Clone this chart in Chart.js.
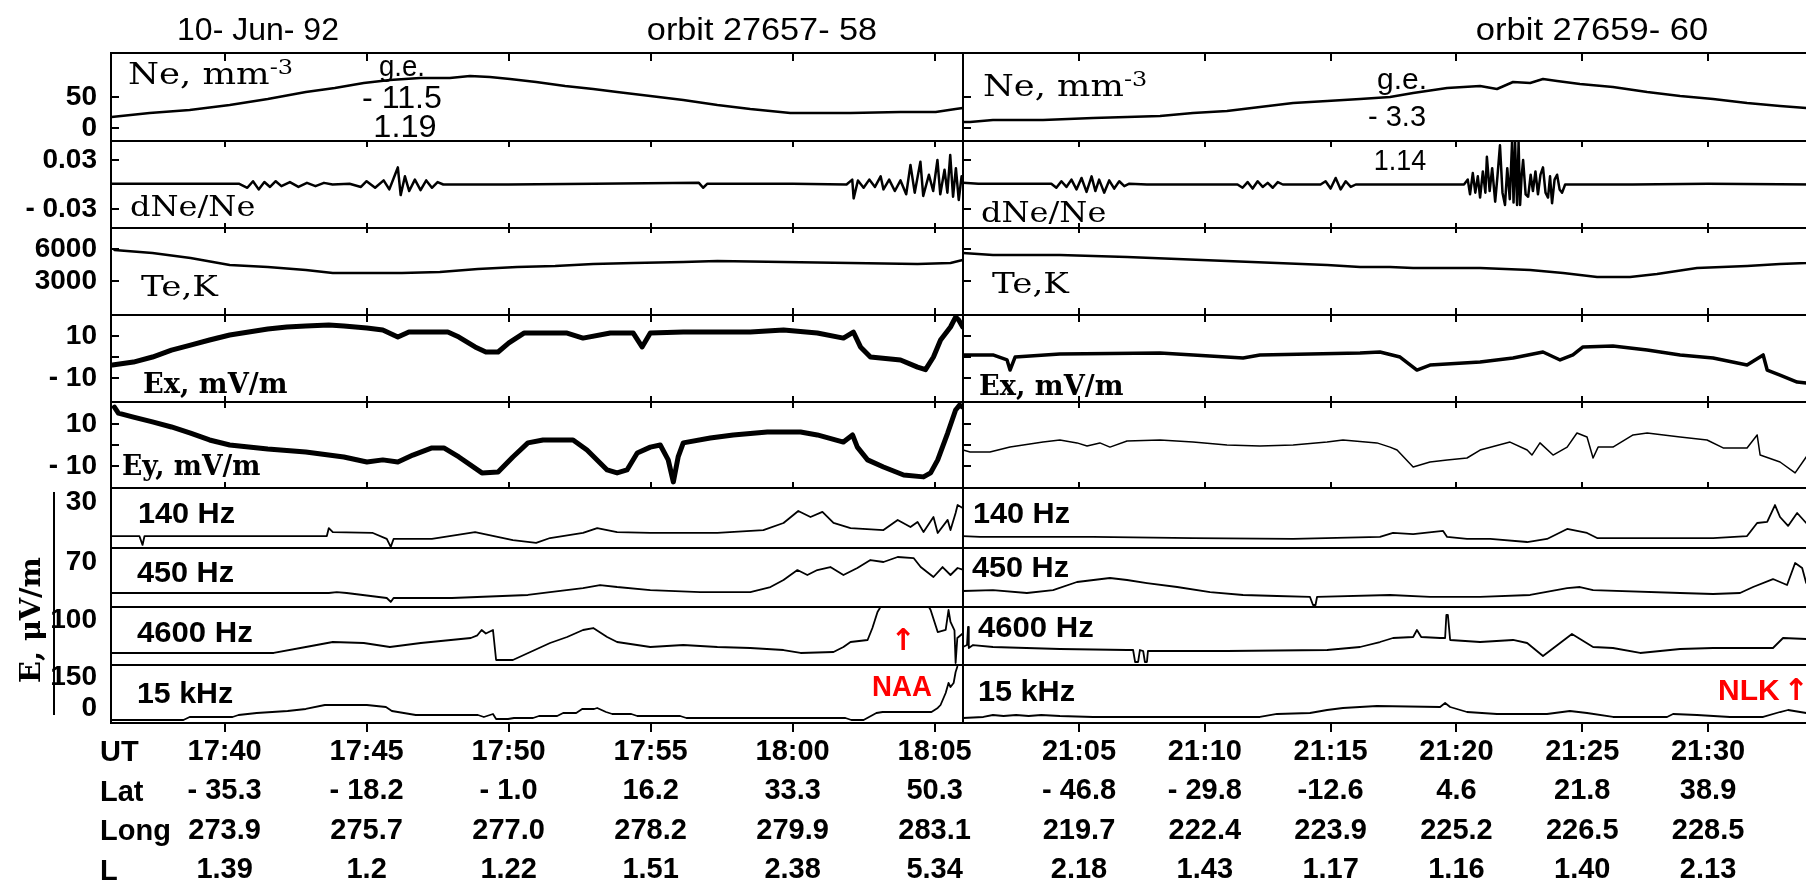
<!DOCTYPE html>
<html><head><meta charset="utf-8">
<script src="https://cdn.jsdelivr.net/npm/chart.js@4.4.1/dist/chart.umd.min.js"></script>
<style>
html,body{margin:0;padding:0;background:#fff;overflow:hidden;width:1806px;height:882px;}
#wrap{position:relative;width:1806px;height:882px;overflow:hidden;background:#fff;}
canvas{position:absolute;top:0;}
.lbl{position:absolute;white-space:nowrap;color:#000;}
</style></head><body><div id="wrap">
<canvas id="cL" width="975" height="882" style="left:0px"></canvas>
<canvas id="cR" width="862" height="882" style="left:953px"></canvas>
</div>
<script>
// ---------- bottom table (x tick labels) ----------
const UT_TICKS_L = [40, 45, 50, 55, 60, 65];          // minutes after 17:00
const UT_L   = ['17:40','17:45','17:50','17:55','18:00','18:05'];
const LAT_L  = ['- 35.3','- 18.2','- 1.0','16.2','33.3','50.3'];
const LONG_L = ['273.9','275.7','277.0','278.2','279.9','283.1'];
const LSH_L  = ['1.39','1.2','1.22','1.51','2.38','5.34'];
const UT_TICKS_R = [5, 10, 15, 20, 25, 30];           // minutes after 21:00
const UT_R   = ['21:05','21:10','21:15','21:20','21:25','21:30'];
const LAT_R  = ['- 46.8','- 29.8','-12.6','4.6','21.8','38.9'];
const LONG_R = ['219.7','222.4','223.9','225.2','226.5','228.5'];
const LSH_R  = ['2.18','1.43','1.17','1.16','1.40','2.13'];

// ---------- y tick values / labels per panel ----------
const Y_TICKS = [[0,50],[-0.03,0.03],[3000,6000],[-10,0,10],[-10,0,10],[30],[70],[100],[0,150]];
const Y_TICK_LABELS = [['0','50'],['- 0.03','0.03'],['3000','6000'],['- 10','','10'],['- 10','','10'],['30'],['70'],['100'],['0','150']];
const Y_RANGE = [[-21,121],[-0.0533,0.0533],[-188,7969],[-21.4,20],[-20.5,20.5],[0,39.1],[0,91.8],[0,128.9],[-72.6,208]];

// ---------- series: [minutes, value] ----------
const NE_L = [[36.02,17.7],[37.36,24.2],[38.77,29.0],[40.18,37.1],[41.52,46.8],[42.86,58.1],[43.88,64.5],[44.90,72.6],[45.82,77.4],[46.88,80.6],[47.93,80.6],[48.64,83.9],[49.34,82.3],[50.05,79.0],[50.97,74.2],[51.99,67.7],[52.98,62.9],[53.82,58.1],[54.99,51.6],[56.15,45.2],[57.35,37.1],[58.51,30.6],[59.92,24.2],[62.04,24.2],[63.80,25.8],[65.04,25.8],[65.74,30.6],[65.99,32.3]];
const NE_R = [[0.39,9.7],[0.67,9.7],[1.58,12.9],[3.57,12.9],[5.56,16.1],[6.91,17.7],[8.22,19.4],[9.53,24.2],[10.88,27.4],[12.19,33.9],[13.51,40.3],[14.86,43.5],[16.17,46.8],[17.36,50.0],[18.28,56.5],[19.63,64.5],[20.94,67.7],[21.61,62.9],[22.25,74.2],[22.93,72.6],[23.44,79.0],[24.00,75.8],[24.91,71.0],[26.22,66.1],[27.58,58.1],[28.89,51.6],[30.20,46.8],[31.55,40.3],[32.86,35.5],[33.90,32.3],[34.25,31.5]];
const DNE_L = [[36.0,0.001],[38.0,0.001],[40.5,0.001],[40.8,-0.004],[41.0,0.004],[41.2,-0.006],[41.4,0.003],[41.6,-0.003],[41.8,0.004],[42.0,-0.002],[42.3,0.003],[42.6,-0.003],[42.9,0.002],[43.2,-0.002],[43.5,0.002],[43.8,0.0],[44.4,0.001],[44.8,-0.003],[45.0,0.004],[45.3,-0.004],[45.6,0.005],[45.8,-0.006],[46.0,0.012],[46.1,0.021],[46.2,-0.013],[46.35,0.010],[46.5,-0.008],[46.7,0.006],[46.9,-0.007],[47.1,0.005],[47.3,-0.004],[47.5,0.003],[47.7,0.0],[50.0,0.0],[53.0,0.001],[56.7,0.002],[56.85,-0.004],[57.0,0.001],[60.0,0.001],[61.9,0.0],[62.1,0.006],[62.15,-0.017],[62.3,0.005],[62.5,-0.004],[62.7,0.006],[62.9,-0.003],[63.1,0.010],[63.2,-0.006],[63.4,0.006],[63.6,-0.008],[63.8,0.005],[64.0,-0.012],[64.15,0.024],[64.3,-0.010],[64.5,0.028],[64.6,-0.014],[64.8,0.012],[64.95,-0.008],[65.1,0.030],[65.2,-0.012],[65.35,0.018],[65.45,-0.010],[65.55,0.036],[65.65,-0.015],[65.75,0.020],[65.85,-0.019],[65.95,0.010],[66.0,0.002]];
const DNE_R = [[0.39,0.002],[1.0,0.001],[3.9,0.001],[4.1,-0.004],[4.3,0.004],[4.5,-0.003],[4.7,0.006],[4.9,-0.006],[5.1,0.008],[5.3,-0.009],[5.5,0.010],[5.65,-0.008],[5.8,0.006],[6.0,-0.010],[6.2,0.005],[6.4,-0.005],[6.6,0.004],[6.8,-0.002],[7.0,0.001],[7.7,0.0],[11.3,0.0],[11.5,-0.004],[11.7,0.003],[11.9,-0.005],[12.1,0.004],[12.3,-0.003],[12.5,0.002],[12.7,-0.004],[12.9,0.003],[13.1,0.0],[14.6,0.0],[14.8,0.004],[15.0,-0.005],[15.2,0.008],[15.4,-0.006],[15.6,0.004],[15.8,-0.003],[16.0,0.0],[20.3,0.0],[20.45,0.006],[20.54,-0.012],[20.65,0.014],[20.75,-0.010],[20.85,0.010],[20.94,-0.016],[21.05,0.016],[21.15,-0.010],[21.21,0.034],[21.32,-0.008],[21.42,0.020],[21.54,-0.021],[21.63,0.010],[21.73,0.048],[21.83,-0.010],[21.93,-0.025],[22.02,0.020],[22.12,-0.018],[22.21,0.052],[22.27,-0.022],[22.33,0.052],[22.41,-0.025],[22.47,0.052],[22.53,-0.025],[22.59,0.010],[22.65,0.030],[22.75,-0.012],[22.85,-0.015],[22.95,0.012],[23.04,-0.008],[23.14,0.016],[23.24,-0.012],[23.34,0.012],[23.44,0.021],[23.54,-0.010],[23.64,-0.016],[23.72,0.010],[23.80,-0.023],[23.9,0.006],[24.0,0.012],[24.1,-0.006],[24.2,-0.010],[24.32,0.0],[27.0,0.0],[30.0,0.001],[34.25,0.0]];
const TE_L = [[36.12,5906],[37.46,5625],[38.80,5156],[40.18,4500],[41.52,4312],[42.86,4031],[43.81,3750],[44.90,3750],[46.24,3750],[47.58,3844],[48.92,4125],[50.30,4312],[51.64,4406],[52.98,4594],[54.39,4687],[56.15,4781],[57.35,4875],[59.68,4781],[62.04,4687],[64.40,4594],[65.56,4687],[65.99,4969]];
const TE_R = [[0.39,5625],[1.58,5437],[4.24,5437],[6.91,5250],[8.90,5062],[10.88,4875],[12.87,4687],[14.86,4500],[16.17,4312],[17.36,4312],[18.28,4219],[20.94,4219],[22.93,4031],[24.24,3750],[25.59,3375],[26.90,3375],[27.97,3656],[29.56,4219],[31.55,4406],[32.86,4594],[33.90,4687],[34.25,4750]];
const EX_L = [[36.05,-3.8],[36.79,-2.4],[37.46,0],[38.13,3.3],[38.80,5.7],[39.47,8.1],[40.18,10.5],[40.85,11.9],[41.52,13.3],[42.19,14.3],[42.86,14.8],[43.67,15.2],[44.20,14.8],[45.01,13.8],[45.57,12.9],[46.10,9.5],[46.49,11.9],[46.91,11.9],[47.86,11.9],[48.25,9.5],[48.82,4.8],[49.20,2.4],[49.63,2.4],[50.01,6.7],[50.54,11.4],[51.64,11.4],[52.06,11.4],[52.62,9.0],[53.58,11.4],[54.39,11.4],[54.70,4.8],[54.99,11.4],[56.15,11.9],[58.51,11.9],[59.68,12.9],[60.87,11.4],[61.79,9.0],[62.14,11.9],[62.39,4.8],[62.74,0],[63.80,-1.4],[64.40,-4.8],[64.68,-6.0],[64.96,0],[65.21,8.1],[65.56,14.3],[65.74,19.0],[65.85,17.6],[65.99,14.3]];
const EX_R = [[0.39,1.0],[1.58,1.0],[2.14,-1.4],[2.26,-6.2],[2.46,0],[4.24,1.4],[8.22,1.9],[11.52,-0.5],[12.19,1.0],[16.17,1.9],[16.96,2.4],[17.76,0],[18.43,-6.2],[18.95,-3.8],[20.94,-2.4],[22.25,-0.5],[23.44,2.4],[24.12,-1.4],[24.63,1.0],[25.03,4.8],[26.22,5.2],[27.58,3.3],[28.89,1.0],[30.20,-0.5],[31.55,-3.8],[32.19,1.0],[32.35,-6.2],[32.86,-8.6],[33.54,-11.9],[33.90,-12.4],[34.25,-13]];
const EY_L = [[36.12,18.1],[36.26,15.2],[36.79,13.3],[37.46,11.0],[38.13,8.6],[38.80,5.7],[39.47,2.4],[40.18,0],[41.52,-1.9],[42.86,-3.3],[44.20,-5.7],[45.01,-8.1],[45.57,-7.1],[46.10,-8.1],[46.63,-4.8],[47.30,-1.4],[47.72,-1.4],[48.25,-5.7],[49.06,-13.3],[49.63,-12.9],[50.15,-5.7],[50.68,1.0],[51.21,2.4],[51.46,2.4],[52.27,2.4],[52.76,-2.4],[53.47,-11.9],[53.82,-13.3],[54.17,-11.9],[54.53,-3.8],[54.99,-1.0],[55.34,0],[55.62,-7.1],[55.80,-17.6],[55.97,-5.7],[56.15,1.0],[57.10,3.3],[57.91,4.8],[59.11,6.2],[60.28,6.2],[60.87,4.8],[61.79,1.4],[62.11,4.8],[62.28,-1.0],[62.64,-7.1],[63.20,-10.5],[63.91,-14.3],[64.61,-15.2],[64.86,-13.3],[65.11,-7.1],[65.46,5.7],[65.74,16.7],[65.88,19.0],[65.99,18.1]];
const EY_R = [[0.39,-2.4],[0.67,-3.3],[1.46,-3.3],[2.26,-1.0],[3.57,1.4],[4.24,2.4],[4.92,1.0],[5.32,-0.5],[5.83,1.0],[6.23,-1.0],[6.91,1.9],[8.22,2.4],[9.53,1.4],[10.88,0],[12.19,-0.5],[13.51,0],[14.86,1.4],[15.49,2.4],[16.84,1.0],[17.36,-1.0],[17.64,-2.4],[18.28,-10.5],[18.95,-8.1],[19.63,-7.1],[20.42,-6.2],[20.94,-2.4],[22.13,1.4],[22.81,-2.4],[23.00,-4.8],[23.32,1.0],[23.84,-4.8],[24.40,-1.0],[24.79,5.7],[25.19,3.8],[25.43,-6.2],[25.63,-1.0],[26.22,-1.0],[27.02,4.8],[27.58,5.7],[28.89,3.8],[29.96,2.4],[30.60,-1.4],[31.55,-1.4],[31.95,4.8],[32.07,-4.8],[32.86,-8.1],[33.46,-13.3],[33.90,-5.7],[34.25,-3]];
const F140_L = [[36.05,7.8],[37.0,7.8],[37.11,2.0],[37.18,7.8],[40.0,7.8],[43.6,7.8],[43.67,13.0],[43.81,10.4],[45.22,9.8],[45.71,5.9],[45.85,0.7],[45.95,5.9],[47.30,5.9],[48.82,10.4],[50.15,5.2],[50.97,3.3],[51.46,6.5],[52.62,9.8],[53.12,13.0],[53.82,10.4],[54.99,9.8],[57.35,9.8],[58.97,11.7],[59.68,16.3],[60.20,24.1],[60.63,20.2],[61.05,23.5],[61.44,16.3],[62.04,13.0],[63.20,11.7],[63.70,18.3],[64.15,13.7],[64.40,17.0],[64.61,10.4],[64.96,20.2],[65.11,9.8],[65.46,18.3],[65.56,11.7],[65.74,22.8],[65.81,28.0],[65.99,26]];
const F140_R = [[0.39,7.8],[1.07,7.2],[4.24,7.2],[5.56,7.2],[9.53,6.5],[13.51,5.9],[16.96,7.2],[17.48,9.8],[18.28,9.1],[19.47,11.1],[19.63,7.2],[20.42,5.9],[21.34,5.9],[22.81,3.9],[23.60,5.9],[24.40,12.4],[25.19,9.8],[25.59,6.5],[30.20,6.5],[31.55,7.8],[31.95,16.3],[32.35,17.0],[32.66,28.0],[32.86,20.2],[33.18,14.4],[33.54,22.8],[33.90,16.3],[34.25,14]];
const F450_L = [[36.05,21.8],[43.67,21.8],[43.95,23.3],[44.3,21.8],[45.71,14.0],[45.85,7.8],[45.95,14.0],[48.0,14.0],[50.68,18.7],[51.46,23.3],[52.62,29.5],[53.22,34.2],[53.82,31.1],[54.99,26.4],[56.75,23.3],[58.51,23.3],[59.22,31.1],[59.68,42.0],[60.17,57.5],[60.52,49.8],[60.87,57.5],[61.33,62.2],[61.79,49.8],[62.28,60.7],[62.74,73.1],[63.20,70.0],[63.70,77.8],[64.26,76.2],[64.51,62.2],[64.96,46.7],[65.28,62.2],[65.56,49.8],[65.81,60.7],[65.99,58]];
const F450_R = [[0.39,24.9],[1.58,26.4],[2.93,21.8],[3.97,26.4],[4.92,38.9],[6.23,45.1],[6.91,42.0],[7.70,37.3],[8.90,31.1],[10.21,23.3],[11.52,18.7],[12.87,17.1],[14.18,15.6],[14.30,3.1],[14.40,3.1],[14.46,15.6],[17.36,18.7],[18.95,15.6],[20.94,15.6],[22.93,18.7],[24.40,29.5],[24.91,31.1],[25.43,26.4],[28.89,21.8],[30.20,20.2],[31.27,21.8],[31.79,31.1],[32.58,43.5],[33.14,34.2],[33.46,68.4],[33.74,60.7],[33.90,37.3],[34.25,30]];
const F4600_L = [[36.05,26.7],[41.73,26.7],[42.86,40.0],[43.81,51.1],[44.90,48.9],[45.82,40.0],[46.91,48.9],[48.67,60.0],[48.9,66],[49.05,77.8],[49.2,70],[49.45,77.8],[49.56,11.1],[50.15,11.1],[51.46,48.9],[52.06,62.2],[52.62,77.8],[52.98,82.2],[53.47,62.2],[53.82,51.1],[54.99,40.0],[56.15,44.4],[57.35,40.0],[58.51,37.8],[59.68,33.3],[60.28,26.7],[61.44,28.9],[61.79,40.0],[62.04,51.1],[62.64,55.6],[62.81,82.2],[62.99,117.8],[63.2,140],[64.7,140],[64.86,122.2],[65.11,73.3],[65.39,77.8],[65.49,122.2],[65.56,95.6],[65.70,77],[65.74,4.4],[65.8,60],[65.99,70]];
const F4600_R = [[0.39,40],[0.55,44.4],[0.59,84.4],[0.62,37.8],[0.79,44.4],[1.58,40.0],[4.24,35.6],[6.91,33.3],[7.15,33.3],[7.23,6.7],[7.35,6.7],[7.42,33.3],[7.55,31.1],[7.62,6.7],[7.70,6.7],[7.74,31.1],[10.88,31.1],[14.86,33.3],[16.17,40.0],[16.96,51.1],[17.48,60.0],[18.28,62.2],[18.43,77.8],[18.6,62.2],[19.35,60.0],[19.55,60.0],[19.6,111.1],[19.66,111.1],[19.75,55.6],[20.94,51.1],[22.25,55.6],[22.81,48.9],[23.44,20.0],[24.12,48.9],[24.59,68.9],[25.43,40.0],[26.22,37.8],[27.30,26.7],[28.89,35.6],[30.20,37.8],[32.58,37.8],[32.98,60.0],[33.90,57.8],[34.25,57]];
const F15K_L = [[36.0,-58],[38.55,-58],[38.77,-43.5],[40.28,-43.5],[40.49,-33.9],[41.13,-24.2],[42.22,-14.5],[42.86,-4.8],[43.53,14.5],[45.01,14.5],[45.68,4.8],[45.89,-14.5],[46.73,-33.9],[48.92,-33.9],[49.13,-43.5],[49.45,-29.0],[49.56,-53.2],[49.98,-53.2],[50.19,-48.4],[50.86,-48.4],[51.07,-38.7],[51.71,-38.7],[51.92,-24.2],[52.38,-24.2],[52.59,-4.8],[53.01,-4.8],[53.12,0],[53.43,-19.4],[53.65,-29.0],[54.32,-29.0],[54.53,-38.7],[56.04,-38.7],[56.26,-48.4],[61.86,-48.4],[62.07,-58],[62.50,-58],[62.95,-24.2],[63.17,-19.4],[64.89,-19.4],[65.11,0],[65.21,14.5],[65.39,72.6],[65.49,121],[65.56,101.6],[65.67,121],[65.74,174.2],[65.8,200]];
const F15K_R = [[0.39,-48.4],[1.2,-43.5],[1.58,-33.9],[2.0,-38.7],[2.5,-33.9],[3.0,-38.7],[3.5,-33.9],[4.24,-38.7],[5.56,-43.5],[12.19,-43.5],[12.87,-29.0],[14.18,-24.2],[14.86,-9.7],[15.49,0],[16.84,9.7],[19.35,4.8],[19.55,24.2],[19.75,4.8],[20.42,-19.4],[21.61,-29.0],[23.60,-29.0],[24.51,-14.5],[25.19,-24.2],[26.22,-43.5],[28.37,-43.5],[28.61,-29.0],[29.56,-33.9],[30.87,-43.5],[32.19,-43.5],[32.86,-19.4],[33.18,-9.7],[33.90,-24.2],[34.25,-24]];

const SERIES_L = [NE_L, DNE_L, TE_L, EX_L, EY_L, F140_L, F450_L, F4600_L, F15K_L];
const SERIES_R = [NE_R, DNE_R, TE_R, EX_R, EY_R, F140_R, F450_R, F4600_R, F15K_R];

// ---------- layout / style ----------
const SANS = '"Liberation Sans", Arial, sans-serif';
const SERIF = '"DejaVu Serif", serif';
const ARROW = '"DejaVu Sans", sans-serif';
const PANEL_IDS = ['y0','y1','y2','y3','y4','y5','y6','y7','y8'];
const PANEL_H = [88,87,87,87,86,60,59,58,58];
const Y_MARKS = [true,true,true,true,true,false,false,false,false];
const BOUND_TICKS = [[0,8],[0,6],[5,5],[7,7],[6,6],[6,0]]; // [up, down] at top of panel 0 and bottoms of panels 0..4
const LW_L = [2.5,2.5,2.5,5,5,1.8,1.8,1.8,1.8];
const LW_R = [2.5,2.5,2.5,3.5,1.5,1.8,1.8,1.8,1.8];

const clipPlugin = {
  id: 'panelClip',
  beforeDatasetDraw(chart, args) {
    const ys = chart.scales[args.meta.yAxisID], ca = chart.chartArea, ctx = chart.ctx;
    ctx.save(); ctx.beginPath();
    ctx.rect(ca.left, ys.top, ca.right - ca.left, ys.bottom - ys.top);
    ctx.clip();
  },
  afterDatasetDraw(chart) { chart.ctx.restore(); }
};
const framePlugin = {
  id: 'frame',
  afterDatasetsDraw(chart) {
    const ctx = chart.ctx, ca = chart.chartArea, xs = chart.scales.x;
    ctx.save();
    ctx.strokeStyle = '#000'; ctx.lineWidth = 2; ctx.lineCap = 'butt';
    PANEL_IDS.forEach((id, i) => {
      const s = chart.scales[id];
      ctx.strokeRect(ca.left, s.top, ca.right - ca.left, s.bottom - s.top);
      if (Y_MARKS[i]) {
        Y_TICKS[i].forEach(v => {
          const y = Math.round(s.getPixelForValue(v));
          ctx.beginPath(); ctx.moveTo(ca.left, y); ctx.lineTo(ca.left + 8, y); ctx.stroke();
        });
      }
    });
    const ys = [chart.scales.y0.top].concat([0,1,2,3,4].map(i => chart.scales[PANEL_IDS[i]].bottom));
    xs.ticks.forEach(t => {
      const x = Math.round(xs.getPixelForValue(t.value));
      ys.forEach((y, j) => {
        const [up, down] = BOUND_TICKS[j];
        ctx.beginPath(); ctx.moveTo(x, y - up); ctx.lineTo(x, y + down); ctx.stroke();
      });
    });
    ctx.restore();
  }
};

function makeChart(canvasId, cfg) {
  const scales = {
    x: {
      type: 'linear', position: 'bottom', min: cfg.min, max: cfg.max, bounds: 'data',
      afterBuildTicks: a => { a.ticks = cfg.ticks.map(v => ({value: v})); },
      afterFit: s => { s.height = 159; },
      grid: {display: true, drawOnChartArea: false, drawTicks: true, tickLength: 9, color: '#000', lineWidth: 2},
      border: {display: false},
      ticks: {autoSkip: false, maxRotation: 0, minRotation: 0, padding: 0, color: '#000',
        font: {family: SANS, weight: 'bold', size: 29, lineHeight: 39.5/29},
        callback: (v, i) => cfg.rows.map(r => r[i])}
    }
  };
  PANEL_IDS.forEach((id, i) => {
    scales[id] = {
      type: 'linear', position: 'left', stack: 'panels', stackWeight: PANEL_H[i], weight: 20 - i,
      min: Y_RANGE[i][0], max: Y_RANGE[i][1], bounds: 'data', offset: false,
      afterBuildTicks: a => { a.ticks = Y_TICKS[i].map(v => ({value: v})); },
      afterFit: s => { s.width = cfg.yW; },
      grid: {display: false}, border: {display: false},
      ticks: {display: cfg.showY, autoSkip: false, padding: 6, color: '#000',
        font: {family: SANS, weight: 'bold', size: 28},
        callback: (v, k) => Y_TICK_LABELS[i][k]}
    };
  });
  const datasets = cfg.series.map((s, i) => ({
    data: s.map(p => ({x: p[0], y: p[1]})),
    yAxisID: PANEL_IDS[i], borderColor: '#000', borderWidth: cfg.lw[i],
    pointRadius: 0, tension: 0, fill: false, borderJoinStyle: 'round', borderCapStyle: 'round'
  }));
  return new Chart(document.getElementById(canvasId), {
    type: 'line',
    data: {datasets},
    options: {
      responsive: false, animation: false, devicePixelRatio: 1, events: [],
      layout: {padding: {left: 0, top: 53, right: cfg.padR, bottom: 0}},
      plugins: {legend: {display: false}, tooltip: {enabled: false}, title: {display: false}},
      scales
    },
    plugins: [clipPlugin, framePlugin]
  });
}

makeChart('cL', {series: SERIES_L, ticks: UT_TICKS_L, rows: [UT_L, LAT_L, LONG_L, LSH_L], min: 36, max: 66, yW: 111, padR: 12, lw: LW_L, showY: true});
makeChart('cR', {series: SERIES_R, ticks: UT_TICKS_R, rows: [UT_R, LAT_R, LONG_R, LSH_R], min: 0.39, max: 34.25, yW: 10, padR: 0, lw: LW_R, showY: false});

// ---------- text overlays ----------
const SUP = '<span style="font-size:.68em;position:relative;top:-.5em">-3</span>';
const LABELS = [
  {t:'10- Jun- 92', x:258, y:29, a:'c', f:SANS, s:32, w:400, tw:162},
  {t:'orbit 27657- 58', x:762, y:29, a:'c', f:SANS, s:32, w:400, tw:230},
  {t:'orbit 27659- 60', x:1592, y:29, a:'c', f:SANS, s:32, w:400, tw:232},
  {t:'Ne, mm'+SUP, x:128, y:74, a:'l', f:SERIF, s:29, w:400, tw:165},
  {t:'dNe/Ne', x:130, y:207, a:'l', f:SERIF, s:28, w:400, tw:126},
  {t:'Te,K', x:141, y:287, a:'l', f:SERIF, s:28, w:400, tw:77},
  {t:'Ex, mV/m', x:143, y:383, a:'l', f:SERIF, s:27, w:700, tw:144},
  {t:'Ey, mV/m', x:122, y:465, a:'l', f:SERIF, s:27, w:700, tw:138},
  {t:'Ne, mm'+SUP, x:983, y:86, a:'l', f:SERIF, s:29, w:400, tw:164},
  {t:'dNe/Ne', x:981, y:213, a:'l', f:SERIF, s:28, w:400, tw:126},
  {t:'Te,K', x:992, y:284, a:'l', f:SERIF, s:28, w:400, tw:77},
  {t:'Ex, mV/m', x:979, y:385, a:'l', f:SERIF, s:27, w:700, tw:144},
  {t:'140 Hz', x:138, y:513, a:'l', f:SANS, s:30, w:700, tw:97},
  {t:'450 Hz', x:137, y:572, a:'l', f:SANS, s:30, w:700, tw:97},
  {t:'4600 Hz', x:137, y:632, a:'l', f:SANS, s:30, w:700, tw:116},
  {t:'15 kHz', x:137, y:693, a:'l', f:SANS, s:30, w:700, tw:96},
  {t:'140 Hz', x:973, y:513, a:'l', f:SANS, s:30, w:700, tw:97},
  {t:'450 Hz', x:972, y:567, a:'l', f:SANS, s:30, w:700, tw:97},
  {t:'4600 Hz', x:978, y:627, a:'l', f:SANS, s:30, w:700, tw:116},
  {t:'15 kHz', x:978, y:691, a:'l', f:SANS, s:30, w:700, tw:97},
  {t:'g.e.', x:402, y:66, a:'c', f:SANS, s:30, w:400, tw:46},
  {t:'- 11.5', x:402, y:97, a:'c', f:SANS, s:31, w:400, tw:80},
  {t:'1.19', x:405, y:126, a:'c', f:SANS, s:31, w:400, tw:63},
  {t:'g.e.', x:1402, y:79, a:'c', f:SANS, s:30, w:400, tw:50},
  {t:'- 3.3', x:1397, y:116, a:'c', f:SANS, s:30, w:400, tw:58},
  {t:'1.14', x:1400, y:160, a:'c', f:SANS, s:30, w:400, tw:52},
  {t:'\u2191', x:903, y:640, a:'c', f:ARROW, s:30, w:700, c:'#ff0000'},
  {t:'NAA', x:902, y:686, a:'c', f:SANS, s:29, w:700, tw:60, c:'#ff0000'},
  {t:'NLK', x:1718, y:690, a:'l', f:SANS, s:29, w:700, tw:62, c:'#ff0000'},
  {t:'\u2191', x:1796, y:690, a:'c', f:ARROW, s:30, w:700, c:'#ff0000'},
  {t:'UT', x:100, y:751, a:'l', f:SANS, s:29, w:700},
  {t:'Lat', x:100, y:791, a:'l', f:SANS, s:29, w:700},
  {t:'Long', x:100, y:830, a:'l', f:SANS, s:29, w:700},
  {t:'L', x:100, y:870, a:'l', f:SANS, s:29, w:700},
  {t:'E, \u03bcV/m', x:31, y:620, a:'c', f:SERIF, s:28, w:700, tw:126, r:-90}
];
const wrap = document.getElementById('wrap');
LABELS.forEach(L => {
  const d = document.createElement('div');
  d.className = 'lbl';
  d.innerHTML = L.t;
  d.style.font = `${L.w} ${L.s}px ${L.f}`;
  d.style.lineHeight = '1';
  d.style.left = L.x + 'px';
  d.style.top = L.y + 'px';
  if (L.c) d.style.color = L.c;
  wrap.appendChild(d);
  let k = L.tw ? L.tw / d.offsetWidth : 1;
  k = Math.max(0.7, Math.min(1.45, k));
  d.style.transformOrigin = L.a === 'c' ? '50% 50%' : '0 50%';
  d.style.transform = `translate(${L.a === 'c' ? '-50%' : '0'},-50%) ${L.r ? 'rotate(' + L.r + 'deg) ' : ''}scaleX(${k.toFixed(3)})`;
});
const bar = document.createElement('div');
bar.style.cssText = 'position:absolute;left:53px;top:492px;width:2px;height:223px;background:#000;';
wrap.appendChild(bar);
</script>
</body></html>
